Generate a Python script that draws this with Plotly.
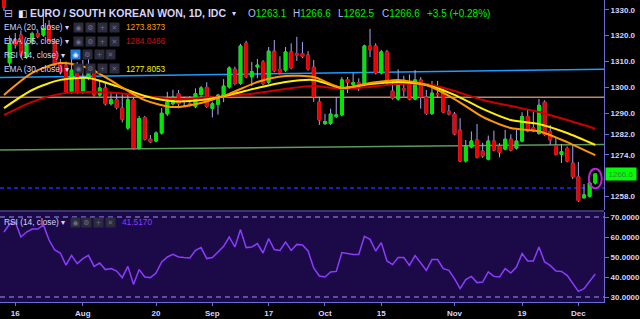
import pandas as pd
import plotly.graph_objects as go

# ---------------- data ----------------
dates = [d.strftime("%Y-%m-%d") for d in pd.bdate_range("2018-07-12", periods=106)]

opens = [1336.0, 1309.5, 1318.5, 1320.2, 1311.8, 1317.6, 1320.8, 1320.2, 1324.0, 1317.6,
         1309.6, 1308.6, 1298.3, 1306.0, 1298.3, 1303.6, 1306.7, 1297.1, 1299.8, 1293.7,
         1295.2, 1292.0, 1284.3, 1295.2, 1276.6, 1288.4, 1280.0, 1279.3, 1282.4, 1289.8,
         1293.7, 1297.6, 1295.5, 1293.7, 1292.7, 1297.3, 1300.0, 1291.9, 1293.5, 1296.7,
         1300.2, 1307.0, 1301.5, 1317.1, 1304.1, 1307.9, 1309.8, 1302.0, 1314.0, 1306.9,
         1306.7, 1313.7, 1313.0, 1313.0, 1312.5, 1307.8, 1294.4, 1286.0, 1286.1, 1288.8,
         1289.4, 1303.0, 1301.2, 1301.8, 1301.2, 1316.0, 1316.0, 1305.6, 1313.7, 1298.6,
         1295.5, 1299.5, 1301.8, 1295.5, 1302.9, 1296.3, 1289.9, 1297.5, 1297.8, 1290.8,
         1289.7, 1283.5, 1271.6, 1277.0, 1279.7, 1275.4, 1272.3, 1279.3, 1277.3, 1276.2,
         1280.0, 1276.6, 1279.3, 1288.8, 1284.4, 1282.2, 1294.3, 1283.0, 1277.5, 1274.2,
         1276.4, 1270.8, 1265.5, 1257.4, 1258.0, 1263.1]
highs = [1337.0, 1320.0, 1321.0, 1322.0, 1318.0, 1321.5, 1322.0, 1328.6, 1326.0, 1319.0,
         1311.0, 1310.0, 1311.4, 1309.8, 1310.6, 1311.8, 1307.5, 1302.9, 1302.0, 1298.3,
         1298.0, 1297.8, 1297.8, 1296.0, 1289.0, 1289.0, 1281.6, 1283.0, 1292.0, 1298.3,
         1299.1, 1299.0, 1296.4, 1296.7, 1299.6, 1300.5, 1302.0, 1294.5, 1297.5, 1303.2,
         1308.2, 1308.0, 1316.8, 1318.0, 1309.8, 1311.0, 1310.5, 1315.6, 1318.3, 1312.0,
         1315.6, 1317.0, 1319.5, 1317.5, 1314.0, 1310.6, 1296.3, 1289.8, 1291.8, 1296.3,
         1304.0, 1304.0, 1305.6, 1303.5, 1316.5, 1322.6, 1317.0, 1314.5, 1314.5, 1302.9,
         1307.0, 1304.5, 1305.0, 1306.7, 1304.0, 1299.0, 1302.5, 1302.5, 1300.0, 1293.2,
         1290.5, 1288.1, 1279.7, 1283.0, 1285.9, 1278.6, 1281.4, 1283.3, 1278.5, 1283.6,
         1281.9, 1283.6, 1290.4, 1291.3, 1290.6, 1295.5, 1295.0, 1285.5, 1280.6, 1278.2,
         1277.2, 1277.6, 1271.2, 1262.7, 1263.8, 1266.6]
lows = [1329.5, 1308.0, 1315.0, 1311.5, 1311.0, 1316.5, 1319.0, 1319.5, 1317.5, 1307.5,
        1305.0, 1297.5, 1297.5, 1297.5, 1297.5, 1302.8, 1296.5, 1296.5, 1293.0, 1293.0,
        1291.5, 1286.5, 1283.5, 1276.0, 1276.0, 1279.5, 1278.5, 1278.8, 1281.8, 1289.0,
        1293.0, 1292.0, 1292.6, 1292.6, 1292.0, 1295.5, 1292.0, 1288.4, 1289.5, 1294.3,
        1299.5, 1300.8, 1301.0, 1303.5, 1300.5, 1303.6, 1300.8, 1301.3, 1305.8, 1305.0,
        1306.0, 1307.0, 1310.2, 1311.3, 1306.5, 1294.4, 1285.5, 1285.5, 1285.5, 1288.2,
        1288.8, 1297.8, 1300.5, 1298.6, 1300.5, 1311.7, 1305.0, 1305.0, 1301.3, 1295.3,
        1294.8, 1296.5, 1295.0, 1295.0, 1291.8, 1289.3, 1289.3, 1296.0, 1290.0, 1289.2,
        1281.5, 1271.2, 1271.0, 1276.5, 1272.6, 1272.8, 1271.8, 1275.3, 1273.0, 1275.7,
        1275.3, 1276.0, 1278.8, 1282.7, 1282.7, 1281.7, 1281.3, 1277.8, 1273.7, 1270.8,
        1271.1, 1264.6, 1255.8, 1257.0, 1257.5, 1262.5]
closes = [1331.0, 1317.0, 1316.5, 1312.5, 1317.0, 1320.8, 1319.8, 1322.8, 1318.3, 1308.6,
          1306.0, 1298.3, 1306.7, 1298.3, 1303.6, 1306.0, 1297.1, 1299.8, 1293.7, 1295.2,
          1292.2, 1287.7, 1295.2, 1276.6, 1288.0, 1280.0, 1279.0, 1282.4, 1290.0, 1294.3,
          1296.3, 1293.7, 1295.0, 1293.2, 1297.6, 1299.8, 1292.7, 1293.7, 1297.0, 1300.5,
          1307.5, 1301.5, 1316.0, 1304.1, 1306.1, 1308.6, 1301.5, 1314.0, 1306.4, 1305.6,
          1313.7, 1307.6, 1312.5, 1312.0, 1307.1, 1296.3, 1287.4, 1286.8, 1289.7, 1289.4,
          1302.9, 1302.0, 1301.8, 1301.0, 1316.0, 1314.5, 1305.6, 1313.7, 1302.0, 1295.9,
          1302.0, 1299.0, 1295.5, 1302.9, 1296.3, 1289.9, 1297.8, 1297.3, 1290.5, 1289.7,
          1282.0, 1271.6, 1277.3, 1279.3, 1273.1, 1273.5, 1279.3, 1275.8, 1275.0, 1280.0,
          1275.8, 1279.3, 1288.8, 1283.2, 1283.2, 1293.1, 1281.8, 1279.7, 1274.2, 1275.2,
          1271.6, 1265.5, 1256.3, 1258.5, 1263.1, 1266.6]

# EMA readings (sampled every 5 sessions + last session)
ema_idx = [0, 5, 10, 15, 20, 25, 30, 35, 40, 45, 50, 55, 60, 65, 70, 75, 80, 85, 90, 95, 100, 105]
ema20 = [1297.1, 1305.6, 1309.4, 1307.5, 1301.3, 1295.1, 1292.4, 1294.0, 1297.5, 1302.1, 1304.4,
         1304.0, 1299.8, 1301.7, 1302.9, 1300.9, 1295.5, 1288.6, 1284.3, 1283.1, 1278.9, 1273.8373]
ema30 = [1292.0, 1299.0, 1302.9, 1303.6, 1300.5, 1296.7, 1294.7, 1295.1, 1297.1, 1299.8, 1302.1,
         1302.9, 1299.8, 1301.3, 1302.1, 1300.9, 1297.1, 1291.7, 1287.4, 1285.9, 1282.4, 1277.8053]
ema55 = [1289.3, 1294.4, 1297.5, 1298.2, 1297.8, 1296.7, 1295.5, 1295.9, 1296.7, 1297.8, 1299.4,
         1300.5, 1299.4, 1300.2, 1301.3, 1301.3, 1298.6, 1295.1, 1292.8, 1290.5, 1287.4, 1284.0466]

rsi = [62.5, 66.5, 67.5, 60.0, 62.5, 64.0, 64.0, 66.0, 58.5, 53.5,
       52.0, 46.0, 50.8, 46.7, 49.2, 50.8, 45.3, 47.0, 43.7, 44.2,
       43.0, 39.7, 45.3, 36.3, 43.7, 40.0, 39.7, 42.0, 47.5, 50.0,
       51.3, 50.0, 49.7, 49.5, 53.3, 54.7, 49.2, 49.7, 52.5, 55.3,
       60.0, 55.0, 63.7, 54.7, 55.0, 56.7, 52.0, 59.2, 53.7, 53.3,
       57.5, 53.3, 56.3, 56.0, 53.0, 44.5, 40.5, 40.0, 42.5, 42.8,
       52.2, 51.7, 51.3, 51.3, 60.3, 58.8, 53.0, 57.2, 48.0, 46.2,
       49.7, 49.7, 45.8, 50.7, 47.0, 43.3, 48.7, 48.7, 44.2, 43.3,
       39.2, 34.2, 38.7, 40.3, 37.2, 37.5, 42.5, 40.3, 40.0, 44.2,
       42.0, 45.0, 51.7, 48.0, 48.0, 55.0, 47.5, 45.8, 43.0, 42.8,
       40.8, 36.7, 32.8, 34.2, 37.8, 41.517]

# drawn levels (start, end)
blue_trend = [1303.8, 1307.0]
tan_level = [1296.2, 1296.2]
green_trend = [1275.8, 1278.0]
dashed_level = 1261.2

price_ticks = [1330, 1320, 1310, 1300, 1290, 1282, 1274, 1258]
rsi_ticks = [70, 60, 50, 40, 30]
tick_dates = ["2018-07-16", "2018-08-01", "2018-08-20", "2018-09-03", "2018-09-17",
              "2018-10-01", "2018-10-15", "2018-11-01", "2018-11-19", "2018-12-03"]
tick_labels = ["16", "Aug", "20", "Sep", "17", "Oct", "15", "Nov", "19", "Dec"]

# ---------------- style ----------------
AX = "#6d6dd8"
TXT = "#d4d4ff"
WICK = "#a8a8f0"
GREEN = "#00e600"
RED = "#ee0000"
FONT = "Liberation Sans"
SYM = "DejaVu Sans"
PW, PH = 606.0, 302.0


def pxx(x):
    return x / PW


def pyy(y):
    return 1 - y / PH


body_hi = [max(o, c) for o, c in zip(opens, closes)]
body_lo = [min(o, c) for o, c in zip(opens, closes)]

fig = go.Figure()

ema_x = [dates[i] for i in ema_idx]
for vals, col in [(ema55, "#cc0000"), (ema30, "#ffee00"), (ema20, "#ff9800")]:
    fig.add_trace(go.Scatter(x=ema_x, y=vals, mode="lines", xaxis="x", yaxis="y",
                             line=dict(color=col, width=2, shape="spline", smoothing=0.7),
                             hoverinfo="skip", showlegend=False))

fig.add_trace(go.Candlestick(x=dates, open=opens, high=highs, low=lows, close=closes,
                             xaxis="x", yaxis="y", whiskerwidth=0,
                             increasing=dict(line=dict(color=WICK, width=1), fillcolor=WICK),
                             decreasing=dict(line=dict(color=WICK, width=1), fillcolor=WICK),
                             hoverinfo="skip", showlegend=False))
fig.add_trace(go.Candlestick(x=dates, open=opens, high=body_hi, low=body_lo, close=closes,
                             xaxis="x", yaxis="y", whiskerwidth=0,
                             increasing=dict(line=dict(color=GREEN, width=1), fillcolor=GREEN),
                             decreasing=dict(line=dict(color=RED, width=1), fillcolor=RED),
                             hoverinfo="skip", showlegend=False))

fig.add_trace(go.Scatter(x=dates, y=rsi, mode="lines", xaxis="x2", yaxis="y2",
                         line=dict(color="#8a3cff", width=1.5),
                         hoverinfo="skip", showlegend=False))

xr = [-0.71, 106.55]
shapes = [
    dict(type="rect", xref="paper", yref="paper", x0=0, x1=1, y0=0, y1=90 / PH,
         fillcolor="#1c0a48", line=dict(width=0), layer="below"),
    dict(type="line", xref="paper", yref="y", x0=0, x1=1, y0=blue_trend[0], y1=blue_trend[1],
         line=dict(color="#1e9bff", width=1.5), layer="below"),
    dict(type="line", xref="paper", yref="y", x0=0, x1=1, y0=tan_level[0], y1=tan_level[1],
         line=dict(color="#b88a6a", width=1.5), layer="below"),
    dict(type="line", xref="paper", yref="y", x0=0, x1=1, y0=green_trend[0], y1=green_trend[1],
         line=dict(color="#5e9a5e", width=1.5), layer="below"),
    dict(type="line", xref="paper", yref="y", x0=0, x1=1, y0=dashed_level, y1=dashed_level,
         line=dict(color="#1a2cff", width=1.5, dash="4px,3px"), layer="below"),
    dict(type="line", xref="paper", yref="y2", x0=0, x1=1, y0=70, y1=70,
         line=dict(color="#9a9af0", width=1, dash="5px,4px")),
    dict(type="line", xref="paper", yref="y2", x0=0, x1=1, y0=30, y1=30,
         line=dict(color="#9a9af0", width=1, dash="5px,4px")),
    dict(type="line", xref="paper", yref="paper", x0=0, x1=1, y0=pyy(211), y1=pyy(211),
         line=dict(color=AX, width=1)),
]
last = len(closes) - 1
shapes.append(dict(type="circle", xref="x", yref="y", x0=last - 1.15, x1=last + 1.15,
                   y0=lows[last] - 1.5, y1=highs[last] + 2.0,
                   line=dict(color="#c81ee0", width=2)))

ann = []


def text(x, y, s, size=8, color=TXT, family=FONT, anchor="left"):
    ann.append(dict(x=pxx(x), y=pyy(y), xref="paper", yref="paper", text=s, showarrow=False,
                    xanchor=anchor, yanchor="middle", font=dict(size=size, color=color, family=family)))


def icon(cx, cy, sym, bg="#2b2b3c", fg="#6c6c88"):
    ann.append(dict(x=pxx(cx), y=pyy(cy), xref="paper", yref="paper", text=sym, showarrow=False,
                    xanchor="center", yanchor="middle", width=9, height=9, bgcolor=bg, borderpad=0,
                    font=dict(size=7, color=fg, family=SYM)))


G = "#00ee00"
L = "#b8b8ff"
text(2, 13, "⊟", size=11, color=L, family=SYM)
text(16, 13, "◧", size=10, color="#e8e8ff", family=SYM)
text(28, 13, "<b>EURO / SOUTH KOREAN WON, 1D, IDC</b>", size=10.5, color=TXT)
text(231, 13, "▾", size=8, color=TXT, family=SYM)
text(247, 13, f"O<span style='color:{G}'>{opens[last]:.1f}</span>", size=10, color=L)
text(292, 13, f"H<span style='color:{G}'>{highs[last]:.1f}</span>", size=10, color=L)
text(337, 13, f"L<span style='color:{G}'>{lows[last]:.1f}</span>", size=10, color=L)
text(381, 13, f"C<span style='color:{G}'>{closes[last]:.1f}</span>", size=10, color=L)
chg = closes[last] - closes[last - 1]
text(426, 13, f"+{chg:.1f} (+{chg / closes[last - 1] * 100:.2f}%)", size=10, color=G)

syms = ["◉", "⚙", "+", "✕"]
rows = [(27, "EMA (20, close) ▾", "1273.8373", "#ff9d00", [79, 90.5, 102.5, 114.5]),
        (41, "EMA (55, close) ▾", "1284.0466", "#c81414", [79, 90.5, 102.5, 114.5]),
        (55, "RSI (14, close) ▾", None, None, [75.5, 87.5, 99.5, 110.5]),
        (69, "EMA (30, close) ▾", "1277.8053", "#f2f000", [79, 90.5, 102.5, 114.5]),
        (222, "RSI (14, close) ▾", "41.5170", "#8a3cff", [75.3, 86.7, 98.8, 110.5])]
for k, (yy, lab, val, col, cxs) in enumerate(rows):
    text(2, yy, lab, size=8.3, color=TXT)
    for j, (cx, s) in enumerate(zip(cxs, syms)):
        if k == 2 and j == 0:
            icon(cx, yy, s, bg="#1e7be0", fg="#e0eeff")
        else:
            icon(cx, yy, s)
    if val:
        text(124 if k < 4 else 120, yy, val, size=8.3, color=col)

ann.append(dict(x=1, y=closes[last], xref="paper", yref="y", text=f"{closes[last]:.1f}",
                showarrow=False, xanchor="left", yanchor="middle", xshift=1, width=30, height=12,
                bgcolor="#00ff00", borderpad=0, font=dict(size=8, color="#3f8a3f", family=FONT)))

tickfont = dict(size=8, color=TXT, family=FONT)
fig.update_layout(
    width=640, height=319, margin=dict(l=0, r=34, t=0, b=17, pad=0),
    paper_bgcolor="black", plot_bgcolor="black", showlegend=False,
    xaxis=dict(domain=[0, 1], anchor="y", type="category", categoryorder="array",
               categoryarray=dates, range=xr, showticklabels=False, showgrid=False,
               zeroline=False, showline=False, ticks="", rangeslider=dict(visible=False)),
    xaxis2=dict(domain=[0, 1], anchor="y2", type="category", categoryorder="array",
                categoryarray=dates, range=xr, matches="x", tickvals=tick_dates,
                ticktext=[f"<b>{t}</b>" for t in tick_labels], ticks="outside", ticklen=3,
                tickcolor=AX, showline=True, linecolor=AX, linewidth=1, showgrid=False,
                zeroline=False, tickfont=tickfont, tickangle=0, rangeslider=dict(visible=False)),
    yaxis=dict(domain=[92 / PH, 1], anchor="x", side="right", range=[1252.66, 1333.75],
               tickvals=price_ticks, ticktext=[f"<b>{v:.1f}</b>" for v in price_ticks],
               ticks="outside", ticklen=4, tickcolor=AX, showline=True, linecolor=AX,
               showgrid=False, zeroline=False, tickfont=tickfont),
    yaxis2=dict(domain=[0, 90 / PH], anchor="x2", side="right", range=[27.5, 72.5],
                tickvals=rsi_ticks, ticktext=[f"<b>{v:.4f}</b>" for v in rsi_ticks],
                ticks="outside", ticklen=4, tickcolor=AX, showline=True, linecolor=AX,
                showgrid=False, zeroline=False, tickfont=tickfont),
    shapes=shapes, annotations=ann,
)

fig.write_html("out.html")
